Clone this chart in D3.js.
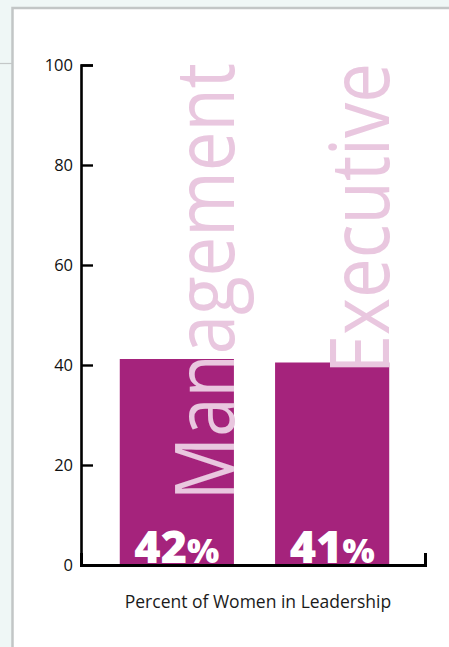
<!DOCTYPE html>
<html>
<head>
<meta charset="utf-8">
<script src="https://cdn.jsdelivr.net/npm/d3@7"></script>
<style>
  html, body { margin: 0; padding: 0; background: #eff7f6; }
  svg { display: block; }
  .tick text { font-family: 'Open Sans', sans-serif; font-size: 16.5px; fill: #111; }
</style>
</head>
<body>
<div id="chart"></div>
<script>
// data
const categories = ['Management', 'Executive'];
const values = [41.2, 40.5];
const valueLabels = ['42', '41'];
const yTicks = [0, 20, 40, 60, 80, 100];
const axisTitle = 'Percent of Women in Leadership';

const W = 449, H = 647;
const margin = { top: 65, right: 24, bottom: 82, left: 81 };

const svg = d3.select('#chart')
  .append('svg')
  .attr('width', W)
  .attr('height', H);

// white panel with grey border, plus the little rule at left
svg.append('line')
  .attr('x1', 0).attr('x2', 12)
  .attr('y1', 63.5).attr('y2', 63.5)
  .attr('stroke', '#c4c8c8')
  .attr('stroke-width', 1.2);

svg.append('rect')
  .attr('x', 12.5).attr('y', 8)
  .attr('width', W).attr('height', H)
  .attr('fill', '#fff')
  .attr('stroke', '#c2c6c6')
  .attr('stroke-width', 2.5);

const x = d3.scaleBand()
  .domain(categories)
  .range([margin.left, W - margin.right])
  .paddingInner(0.265)
  .paddingOuter(0.24)
  .align(0.52);

const y = d3.scaleLinear()
  .domain([0, 100])
  .range([H - margin.bottom, margin.top]);

// bars
svg.selectAll('.bar')
  .data(categories)
  .enter()
  .append('rect')
  .attr('class', 'bar')
  .attr('x', d => x(d))
  .attr('y', (d, i) => y(values[i]))
  .attr('width', x.bandwidth())
  .attr('height', (d, i) => y(0) - y(values[i]))
  .attr('fill', '#a5237c');

// big rotated category names
const names = svg.selectAll('.name')
  .data(categories)
  .enter()
  .append('text')
  .attr('class', 'name')
  .attr('transform', d => `translate(${x(d) + x.bandwidth()}, ${y(100) - 2}) rotate(-90)`)
  .attr('text-anchor', 'end')
  .style('font-family', "'Open Sans', sans-serif")
  .style('font-size', '83px')
  .style('fill', '#e9c7df')
  .text(d => d);

// squeeze them like the condensed original face
names.each(function() {
  const len = this.getComputedTextLength();
  d3.select(this)
    .attr('textLength', len * 0.852)
    .attr('lengthAdjust', 'spacingAndGlyphs');
});

// value labels inside bars
const vl = svg.selectAll('.value')
  .data(categories)
  .enter()
  .append('text')
  .attr('class', 'value')
  .attr('x', d => x(d) + x.bandwidth() / 2)
  .attr('y', y(0) - 2)
  .attr('text-anchor', 'middle')
  .style('font-family', "'Open Sans', sans-serif")
  .style('font-weight', 800)
  .style('fill', '#fff');

vl.append('tspan')
  .style('font-size', '45px')
  .text((d, i) => valueLabels[i]);

vl.append('tspan')
  .style('font-size', '34px')
  .text('%');

// y axis: ticks pointing into the plot
const yAxis = d3.axisLeft(y)
  .tickValues(yTicks)
  .tickSize(-12)
  .tickSizeOuter(-12)
  .tickPadding(8);

const gy = svg.append('g')
  .attr('transform', `translate(${margin.left}, 0)`)
  .call(yAxis);

gy.select('.domain')
  .attr('stroke', '#000')
  .attr('stroke-width', 2.6);
gy.selectAll('.tick line')
  .attr('stroke', '#000')
  .attr('stroke-width', 2.4);

// x axis: plain baseline with a small upturn at the right end
const xAxis = d3.axisBottom(x)
  .tickSize(0)
  .tickSizeOuter(-12)
  .tickFormat('');

const gx = svg.append('g')
  .attr('transform', `translate(0, ${y(0)})`)
  .call(xAxis);

gx.select('.domain')
  .attr('stroke', '#000')
  .attr('stroke-width', 3);

svg.append('text')
  .attr('x', (margin.left + W - margin.right) / 2 + 5)
  .attr('y', y(0) + 43)
  .attr('text-anchor', 'middle')
  .style('font-family', "'Open Sans', sans-serif")
  .style('font-size', '17.5px')
  .style('fill', '#1a1a1a')
  .text(axisTitle);
</script>
</body>
</html>
